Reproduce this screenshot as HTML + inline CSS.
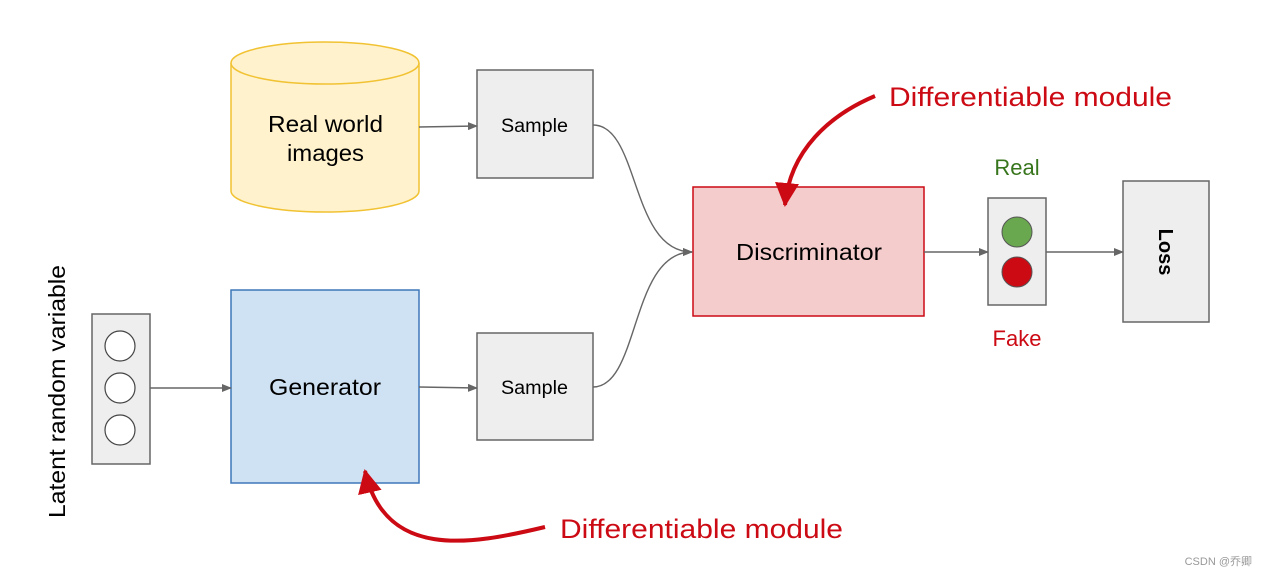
<!DOCTYPE html>
<html><head><meta charset="utf-8"><style>
html,body{margin:0;padding:0;background:#fff;}
svg{display:block;font-family:"Liberation Sans","Noto Sans CJK SC",sans-serif;}
</style></head><body>
<svg width="1268" height="576" viewBox="0 0 1268 576" xmlns="http://www.w3.org/2000/svg">
<defs>
<marker id="a" markerWidth="10" markerHeight="8" refX="9" refY="4" orient="auto" markerUnits="userSpaceOnUse"><path d="M0,0 L10,4 L0,8 z" fill="#666"/></marker>
<marker id="r" markerWidth="26" markerHeight="24" refX="22" refY="12" orient="auto" markerUnits="userSpaceOnUse"><path d="M0,0 L24,12 L0,24 z" fill="#cc0a14"/></marker>
</defs>
<path d="M231,63 L231,191 A94,21 0 0 0 419,191 L419,63" fill="#fff2cc" stroke="#f1c232" stroke-width="1.5"/>
<ellipse cx="325" cy="63" rx="94" ry="21" fill="#fff2cc" stroke="#f1c232" stroke-width="1.5"/>
<text x="268" y="132" font-size="23" textLength="115" lengthAdjust="spacingAndGlyphs">Real world</text>
<text x="287" y="161" font-size="23" textLength="77" lengthAdjust="spacingAndGlyphs">images</text>
<rect x="477" y="70" width="116" height="108" fill="#eee" stroke="#666" stroke-width="1.5"/>
<text x="501" y="132" font-size="19" textLength="67" lengthAdjust="spacingAndGlyphs">Sample</text>
<rect x="477" y="333" width="116" height="107" fill="#eee" stroke="#666" stroke-width="1.5"/>
<text x="501" y="394" font-size="19" textLength="67" lengthAdjust="spacingAndGlyphs">Sample</text>
<rect x="231" y="290" width="188" height="193" fill="#cfe2f3" stroke="#3d78b8" stroke-width="1.5"/>
<text x="269" y="395" font-size="23" textLength="112" lengthAdjust="spacingAndGlyphs">Generator</text>
<rect x="92" y="314" width="58" height="150" fill="#eee" stroke="#666" stroke-width="1.5"/>
<circle cx="120" cy="346" r="15" fill="#fff" stroke="#444" stroke-width="1.2"/>
<circle cx="120" cy="388" r="15" fill="#fff" stroke="#444" stroke-width="1.2"/>
<circle cx="120" cy="430" r="15" fill="#fff" stroke="#444" stroke-width="1.2"/>
<text transform="translate(65,518) rotate(-90)" font-size="23" textLength="253" lengthAdjust="spacingAndGlyphs">Latent random variable</text>
<rect x="693" y="187" width="231" height="129" fill="#f4cccc" stroke="#cc0a14" stroke-width="1.5"/>
<text x="736" y="260" font-size="23" textLength="146" lengthAdjust="spacingAndGlyphs">Discriminator</text>
<rect x="988" y="198" width="58" height="107" fill="#eee" stroke="#666" stroke-width="1.5"/>
<circle cx="1017" cy="232" r="15" fill="#6aa84f" stroke="#555" stroke-width="1"/>
<circle cx="1017" cy="272" r="15" fill="#cc0a14" stroke="#555" stroke-width="1"/>
<text x="1017" y="175" font-size="22" text-anchor="middle" fill="#38761d">Real</text>
<text x="1017" y="346" font-size="22" text-anchor="middle" fill="#cc0a14">Fake</text>
<rect x="1123" y="181" width="86" height="141" fill="#eee" stroke="#666" stroke-width="1.5"/>
<text transform="translate(1159,252) rotate(90)" font-size="20" font-weight="bold" text-anchor="middle">Loss</text>
<g stroke="#666" stroke-width="1.4" fill="none" marker-end="url(#a)">
<line x1="419" y1="127" x2="477" y2="126"/>
<line x1="150" y1="388" x2="231" y2="388"/>
<line x1="419" y1="387" x2="477" y2="388"/>
<path d="M593,125 C640,125 630,252 692,252"/>
<path d="M593,387 C640,387 630,252 692,252"/>
<line x1="924" y1="252" x2="988" y2="252"/>
<line x1="1046" y1="252" x2="1123" y2="252"/>
</g>
<path d="M875,96 C830,115 790,150 785,205" stroke="#cc0a14" stroke-width="4" fill="none" marker-end="url(#r)"/>
<path d="M545,527 C470,545 385,560 365,471" stroke="#cc0a14" stroke-width="4" fill="none" marker-end="url(#r)"/>
<text x="889" y="106" font-size="27" fill="#cc0a14" textLength="283" lengthAdjust="spacingAndGlyphs">Differentiable module</text>
<text x="560" y="538" font-size="27" fill="#cc0a14" textLength="283" lengthAdjust="spacingAndGlyphs">Differentiable module</text>
<text x="1252" y="565" font-size="11" fill="#999" text-anchor="end">CSDN @乔卿</text>
</svg>
</body></html>
